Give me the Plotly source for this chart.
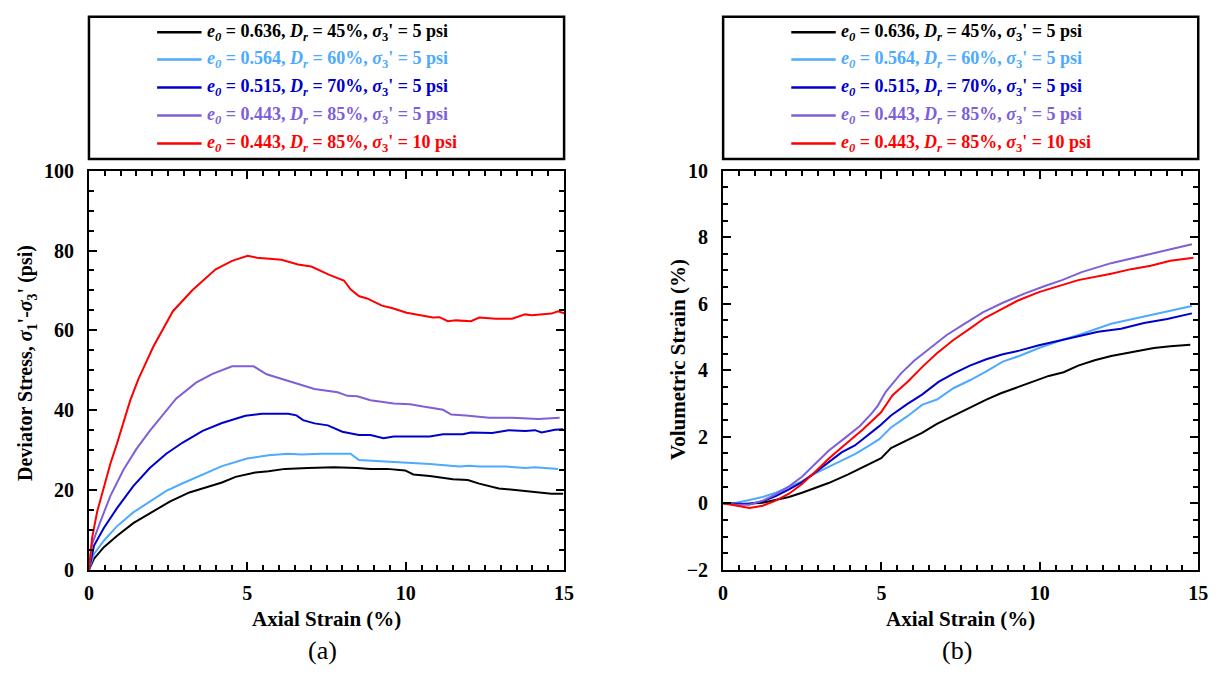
import plotly.graph_objects as go

W, H = 1228, 682
SERIF = "Liberation Serif"

# ---------------------------------------------------------------- data
specimen_labels = [
    "<i>e</i><sub><i>0</i></sub> = 0.636, <i>D</i><sub><i>r</i></sub> = 45%, <i>σ</i><sub>3</sub>' = 5 psi",
    "<i>e</i><sub><i>0</i></sub> = 0.564, <i>D</i><sub><i>r</i></sub> = 60%, <i>σ</i><sub>3</sub>' = 5 psi",
    "<i>e</i><sub><i>0</i></sub> = 0.515, <i>D</i><sub><i>r</i></sub> = 70%, <i>σ</i><sub>3</sub>' = 5 psi",
    "<i>e</i><sub><i>0</i></sub> = 0.443, <i>D</i><sub><i>r</i></sub> = 85%, <i>σ</i><sub>3</sub>' = 5 psi",
    "<i>e</i><sub><i>0</i></sub> = 0.443, <i>D</i><sub><i>r</i></sub> = 85%, <i>σ</i><sub>3</sub>' = 10 psi",
]
specimen_colors = ["#000000", "#4DAAFF", "#0000CC", "#7E5FD8", "#FF0000"]

# (a) axial strain (%) vs deviator stress (psi)
strain_a_45 = [0, 0.16, 0.47, 0.88, 1.4, 1.92, 2.55, 3.17, 3.79, 4.2, 4.63, 5.25, 5.67, 6.19,
               6.91, 7.74, 8.47, 8.89, 9.41, 9.98, 10.24, 10.76, 11.49, 11.96, 12.32, 12.94,
               13.46, 13.98, 14.6, 14.97]
stress_45 = [0, 2.8, 5.7, 8.5, 11.7, 14.1, 17.1, 19.4, 21.0, 21.9, 23.3, 24.4, 24.7, 25.3,
             25.5, 25.7, 25.5, 25.3, 25.3, 24.9, 23.9, 23.5, 22.7, 22.5, 21.6, 20.4,
             20.0, 19.6, 19.1, 19.1]

strain_a_60 = [0, 0.16, 0.47, 0.88, 1.4, 1.92, 2.44, 2.96, 3.59, 4.2, 4.99, 5.67, 6.29, 6.71,
               7.33, 8.26, 8.52, 9.2, 10.03, 10.76, 11.7, 12.0, 12.32, 13.15, 13.77, 14.08,
               14.81]
stress_60 = [0, 4.0, 7.3, 10.9, 14.4, 17.0, 19.8, 21.7, 23.8, 26.0, 27.9, 28.7, 29.1, 28.9,
             29.1, 29.1, 27.5, 27.2, 26.9, 26.5, 25.9, 26.1, 25.9, 25.9, 25.5, 25.7,
             25.3]

strain_a_70 = [0, 0.16, 0.47, 0.88, 1.4, 1.92, 2.44, 2.96, 3.59, 4.2, 4.94, 5.46, 6.29, 6.55,
               6.76, 7.12, 7.54, 8.0, 8.52, 8.89, 9.3, 9.62, 10.76, 11.18, 11.8, 12.06,
               12.73, 13.25, 13.77, 14.08, 14.29, 14.71, 14.97]
stress_70 = [0, 6.1, 10.5, 15.4, 21.0, 25.5, 29.1, 31.9, 34.8, 36.8, 38.6, 39.1, 39.1, 38.7,
             37.5, 36.7, 36.2, 34.6, 33.8, 33.8, 33.0, 33.4, 33.4, 34.0, 34.0, 34.4,
             34.3, 35.0, 34.8, 35.0, 34.4, 35.1, 35.2]

strain_a_85 = [0, 0.1, 0.36, 0.68, 1.09, 1.5, 1.92, 2.34, 2.75, 3.38, 3.9, 4.52, 5.2, 5.61,
               6.08, 6.6, 7.12, 7.85, 8.16, 8.47, 8.89, 9.62, 10.14, 10.55, 11.18, 11.44,
               11.9, 12.63, 13.36, 14.19, 14.86]
stress_85 = [0, 6.5, 12.1, 18.6, 25.1, 30.3, 34.8, 39.0, 42.9, 46.9, 49.1, 51.0, 51.0, 49.0,
             47.9, 46.7, 45.3, 44.5, 43.6, 43.5, 42.5, 41.7, 41.5, 40.9, 40.1, 38.9,
             38.7, 38.1, 38.1, 37.8, 38.1]

strain_a_85_10 = [0, 0.05, 0.1, 0.26, 0.47, 0.68, 0.88, 1.09, 1.3, 1.56, 2.03, 2.65, 3.27,
                  4.0, 4.52, 5.01, 5.3, 6.08, 6.6, 7.02, 7.59, 8.05, 8.26, 8.52, 8.78, 9.25,
                  9.56, 10.03, 10.34, 10.86, 11.07, 11.33, 11.59, 12.06, 12.32, 12.84,
                  13.36, 13.77, 13.98, 14.6, 14.81, 15.0]
stress_85_10 = [0, 4.9, 8.1, 14.6, 21.0, 26.7, 31.5, 37.2, 42.4, 47.8, 55.9, 64.8, 70.1,
                75.3, 77.4, 78.7, 78.2, 77.7, 76.5, 76.0, 73.9, 72.5, 70.3, 68.6, 68.0, 66.2,
                65.6, 64.4, 64.0, 63.2, 63.3, 62.3, 62.5, 62.3, 63.2, 62.9,
                62.9, 64.0, 63.8, 64.2, 64.8, 64.3]

# (b) axial strain (%) vs volumetric strain (%)
strain_b_45 = [0, 0.62, 1.25, 1.66, 2.08, 2.49, 2.91, 3.33, 3.95, 4.47, 4.99, 5.3, 5.82,
               6.28, 6.75, 7.27, 7.79, 8.31, 8.77, 9.24, 9.76, 10.28, 10.75, 11.21, 11.73,
               12.25, 12.88, 13.6, 14.12, 14.75]
vol_45 = [0, -0.02, 0.02, 0.10, 0.19, 0.32, 0.47, 0.61, 0.87, 1.12, 1.36, 1.66, 1.91,
          2.12, 2.39, 2.64, 2.88, 3.12, 3.31, 3.48, 3.65, 3.83, 3.94, 4.14, 4.30,
          4.43, 4.54, 4.67, 4.72, 4.77]

strain_b_60 = [0, 0.42, 0.83, 1.25, 1.66, 2.08, 2.49, 2.91, 3.33, 3.74, 4.16, 4.57, 4.93,
               5.3, 5.82, 6.28, 6.75, 7.27, 7.79, 8.31, 8.83, 9.35, 9.97, 10.7, 11.32,
               12.25, 13.29, 14.8]
vol_60 = [0, 0.02, 0.10, 0.19, 0.32, 0.48, 0.66, 0.90, 1.09, 1.29, 1.48, 1.71, 1.93,
          2.28, 2.62, 2.96, 3.12, 3.46, 3.70, 3.97, 4.26, 4.43, 4.67, 4.91, 5.09,
          5.40, 5.62, 5.93]

strain_b_70 = [0, 0.42, 0.83, 1.25, 1.66, 2.08, 2.49, 2.91, 3.33, 3.74, 4.16, 4.93, 5.3,
               5.82, 6.28, 6.8, 7.27, 7.79, 8.31, 8.83, 9.35, 9.97, 10.7, 11.32, 11.84,
               12.56, 13.29, 14.02, 14.8]
vol_70 = [0, -0.02, -0.02, 0.06, 0.22, 0.42, 0.64, 0.93, 1.24, 1.53, 1.74, 2.32, 2.64,
          2.99, 3.27, 3.65, 3.90, 4.14, 4.33, 4.48, 4.59, 4.75, 4.91, 5.04, 5.16,
          5.25, 5.42, 5.54, 5.71]

strain_b_85 = [0, 0.42, 0.83, 1.25, 1.66, 2.08, 2.49, 2.91, 3.33, 3.84, 4.31, 4.67, 4.88,
               5.14, 5.61, 6.02, 6.54, 7.06, 7.58, 8.2, 8.83, 9.55, 10.18, 10.7, 11.32,
               12.25, 13.29, 14.8]
vol_85 = [0, -0.04, -0.04, 0.08, 0.27, 0.51, 0.80, 1.19, 1.58, 1.96, 2.32, 2.68, 2.93,
          3.36, 3.90, 4.28, 4.67, 5.06, 5.37, 5.74, 6.03, 6.32, 6.54, 6.71, 6.95,
          7.22, 7.45, 7.79]

strain_b_85_10 = [0, 0.42, 0.83, 1.25, 1.66, 2.08, 2.49, 2.91, 3.33, 3.74, 4.41, 4.98, 5.35,
                  5.82, 6.33, 6.75, 7.27, 7.79, 8.26, 8.72, 9.29, 9.97, 10.7, 11.21, 12.25,
                  12.88, 13.5, 14.12, 14.85]
vol_85_10 = [0, -0.07, -0.14, -0.07, 0.08, 0.29, 0.58, 0.95, 1.34, 1.68, 2.22, 2.73, 3.25,
             3.65, 4.14, 4.51, 4.91, 5.25, 5.57, 5.80, 6.09, 6.35, 6.56, 6.71, 6.90,
             7.04, 7.14, 7.29, 7.38]

panel_a = [(strain_a_45, stress_45), (strain_a_60, stress_60), (strain_a_70, stress_70),
           (strain_a_85, stress_85), (strain_a_85_10, stress_85_10)]
panel_b = [(strain_b_45, vol_45), (strain_b_60, vol_60), (strain_b_70, vol_70),
           (strain_b_85, vol_85), (strain_b_85_10, vol_85_10)]

x_ticks = [0, 5, 10, 15]
y_ticks_a = [0, 20, 40, 60, 80, 100]
y_ticks_b = [-2, 0, 2, 4, 6, 8, 10]

# ---------------------------------------------------------------- layout helpers (pixels -> paper)
def px(x):
    return x / W


def py(y):
    return 1 - y / H


PLOT_TOP, PLOT_BOTTOM = 165, 577.5
LEFT_X = (85, 566)
RIGHT_X = (727, 1208)

fig = go.Figure()

for (xs, ys), name, color in zip(panel_a, specimen_labels, specimen_colors):
    fig.add_trace(go.Scatter(x=xs, y=ys, mode="lines", name=name, showlegend=False,
                             line=dict(color=color, width=2), xaxis="x", yaxis="y"))
for (xs, ys), name, color in zip(panel_b, specimen_labels, specimen_colors):
    fig.add_trace(go.Scatter(x=xs, y=ys, mode="lines", name=name, showlegend=False,
                             line=dict(color=color, width=2), xaxis="x2", yaxis="y2"))

tick_font = dict(family=SERIF, size=20, color="black", weight="bold")


def axis_style(minor_step):
    return dict(showline=True, linecolor="black", linewidth=2, mirror="ticks",
                ticks="inside", ticklen=8, tickwidth=2, tickcolor="black",
                showgrid=False, zeroline=False, tickfont=tick_font,
                minor=dict(ticks="inside", ticklen=5, tickwidth=2, tickcolor="black",
                           showgrid=False, dtick=minor_step))


fig.update_layout(
    width=W, height=H, autosize=False, margin=dict(l=0, r=0, t=0, b=0, pad=0),
    paper_bgcolor="white", plot_bgcolor="white", showlegend=False,
    xaxis=dict(domain=[px(LEFT_X[0]), px(LEFT_X[1])], range=[0, 15],
               tickvals=x_ticks, ticklabelstandoff=4, anchor="y", **axis_style(0.5)),
    yaxis=dict(domain=[py(PLOT_BOTTOM), py(PLOT_TOP)], range=[0, 100],
               tickvals=y_ticks_a, ticklabelstandoff=9, anchor="x", **axis_style(5)),
    xaxis2=dict(domain=[px(RIGHT_X[0]), px(RIGHT_X[1])], range=[0, 15],
                tickvals=x_ticks, ticklabelstandoff=4, anchor="y2", **axis_style(0.5)),
    yaxis2=dict(domain=[py(PLOT_BOTTOM), py(PLOT_TOP)], range=[-2, 10],
                tickvals=y_ticks_b, ticklabelstandoff=9, anchor="x2", **axis_style(0.5)),
)

shapes = []
annotations = []

# legend boxes above each panel
LEG_TOP, LEG_BOTTOM = 6, 153
ROW_Y = [22, 50, 79, 108, 137]
for x0, x1 in (LEFT_X, RIGHT_X):
    shapes.append(dict(type="rect", xref="paper", yref="paper",
                       x0=px(x0), x1=px(x1), y0=py(LEG_BOTTOM), y1=py(LEG_TOP),
                       line=dict(color="black", width=2.5), fillcolor="white", layer="below"))
    for ry, name, color in zip(ROW_Y, specimen_labels, specimen_colors):
        shapes.append(dict(type="line", xref="paper", yref="paper",
                           x0=px(x0 + 69), x1=px(x0 + 114), y0=py(ry), y1=py(ry),
                           line=dict(color=color, width=2.5)))
        annotations.append(dict(xref="paper", yref="paper", x=px(x0 + 117), y=py(ry),
                                xanchor="left", yanchor="middle", showarrow=False,
                                text=f"<b>{name}</b>",
                                font=dict(family=SERIF, size=18, color=color)))

# axis titles and panel captions
for (x0, x1), label in ((LEFT_X, "(a)"), (RIGHT_X, "(b)")):
    cx = (x0 + x1) / 2
    annotations.append(dict(xref="paper", yref="paper", x=px(cx), y=py(628),
                            xanchor="center", yanchor="middle", showarrow=False,
                            text="<b>Axial Strain (%)</b>",
                            font=dict(family=SERIF, size=21, color="black")))
    annotations.append(dict(xref="paper", yref="paper", x=px(cx - 4), y=py(661),
                            xanchor="center", yanchor="middle", showarrow=False,
                            text=label, font=dict(family=SERIF, size=26, color="black")))

annotations.append(dict(xref="paper", yref="paper", x=px(22), y=py(364),
                        xanchor="center", yanchor="middle", showarrow=False, textangle=-90,
                        text="<b>Deviator Stress, <i>σ</i><sub>1</sub>'-<i>σ</i><sub>3</sub>' (psi)</b>",
                        font=dict(family=SERIF, size=20, color="black")))
annotations.append(dict(xref="paper", yref="paper", x=px(682), y=py(360),
                        xanchor="center", yanchor="middle", showarrow=False, textangle=-90,
                        text="<b>Volumetric Strain (%)</b>",
                        font=dict(family=SERIF, size=21, color="black")))

fig.update_layout(shapes=shapes, annotations=annotations)

# the page keeps the browser's default 8px body margin; drop it so the
# 1228x682 figure fills the window exactly
fig.write_html(
    "out.html",
    config={"responsive": False},
    post_script="document.body.style.margin = '0'; document.body.style.padding = '0';",
)
